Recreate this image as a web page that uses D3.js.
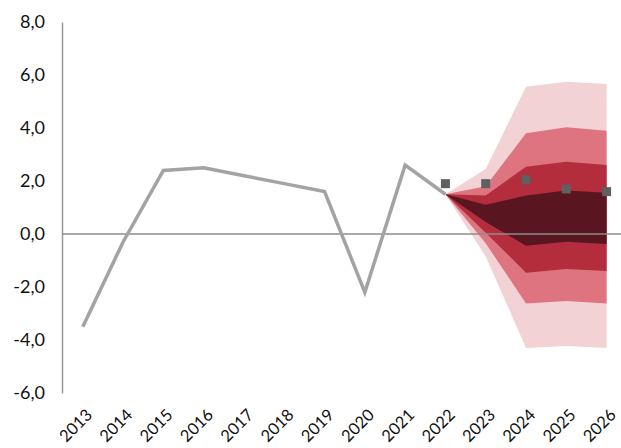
<!DOCTYPE html>
<html><head><meta charset="utf-8">
<script src="https://cdn.jsdelivr.net/npm/d3@7"></script>
<style>body{margin:0;background:#fff}svg{display:block}</style>
</head><body>
<svg id="c" width="621" height="448"></svg>
<script>
const years = ["2013","2014","2015","2016","2017","2018","2019","2020","2021","2022","2023","2024","2025","2026"];
const histYears = ["2013","2014","2015","2016","2017","2018","2019","2020","2021","2022"];
const histValues = [-3.5,-0.3,2.4,2.5,2.2,1.9,1.6,-2.2,2.6,1.5];
const fanYears = ["2022","2023","2024","2025","2026"];
const outerLow  = [1.5,-0.85,-4.3,-4.23,-4.3];
const outerHigh = [1.5, 2.45, 5.56, 5.75, 5.66];
const midLow    = [1.5,-0.35,-2.62,-2.53,-2.62];
const midHigh   = [1.5, 1.8, 3.8, 4.03, 3.9];
const innerLow  = [1.5, 0.05,-1.46,-1.32,-1.4];
const innerHigh = [1.5, 1.45, 2.54, 2.73, 2.6];
const coreLow   = [1.5, 0.45,-0.44,-0.29,-0.38];
const coreHigh  = [1.5, 1.1, 1.45, 1.64, 1.56];
const markerYears = ["2022","2023","2024","2025","2026"];
const markerValues = [1.9,1.9,2.05,1.7,1.6];
const yTicks = [-6,-4,-2,0,2,4,6,8];

const svg = d3.select("#c");
const x = d3.scalePoint().domain(years).range([82.8,606.6]);
const y = d3.scaleLinear().domain([-6,8]).range([393,22]);
const font = "Lato, 'Open Sans', sans-serif";

const bands = [
  [outerLow, outerHigh, "#f3d2d6"],
  [midLow, midHigh, "#de7480"],
  [innerLow, innerHigh, "#b32d3d"],
  [coreLow, coreHigh, "#5a1620"]
];
bands.forEach(([lo, hi, col]) => {
  const area = d3.area().x((d,i)=>x(fanYears[i])).y0((d,i)=>y(lo[i])).y1((d,i)=>y(hi[i]));
  svg.append("path").datum(fanYears).attr("d", area).attr("fill", col);
});

// y axis
const yAxis = d3.axisLeft(y).tickValues(yTicks).tickSize(0).tickPadding(17)
  .tickFormat(d => d.toFixed(1).replace(".", ","));
const gy = svg.append("g").attr("transform","translate(62,0)").call(yAxis);
gy.select(".domain").attr("stroke","#999").attr("stroke-width",1.5);
gy.selectAll("text").attr("font-family",font).attr("font-size",18).attr("fill","#111");

// zero line
svg.append("line").attr("x1",62).attr("x2",621).attr("y1",y(0)).attr("y2",y(0))
  .attr("stroke","#8c8c8c").attr("stroke-width",1.5);

// x labels
const xAxis = d3.axisBottom(x).tickSize(0);
const gx = svg.append("g").attr("transform","translate(0,402)").call(xAxis);
gx.select(".domain").remove();
gx.selectAll("text").attr("font-family",font).attr("font-size",16.5).attr("fill","#111")
  .attr("text-anchor","end").attr("dy",0).attr("y",0)
  .attr("transform","translate(10,14) rotate(-45)");

// historical line
const line = d3.line().x((d,i)=>x(histYears[i])).y(d=>y(d));
svg.append("path").datum(histValues).attr("d",line).attr("fill","none")
  .attr("stroke","#a3a3a3").attr("stroke-width",3.5).attr("stroke-linejoin","miter");

// markers
svg.selectAll("rect.m").data(markerValues).enter().append("rect")
  .attr("x",(d,i)=>x(markerYears[i])-4.5).attr("y",d=>y(d)-4.5)
  .attr("width",9).attr("height",9).attr("fill","#5f6062");
</script>
</body></html>
